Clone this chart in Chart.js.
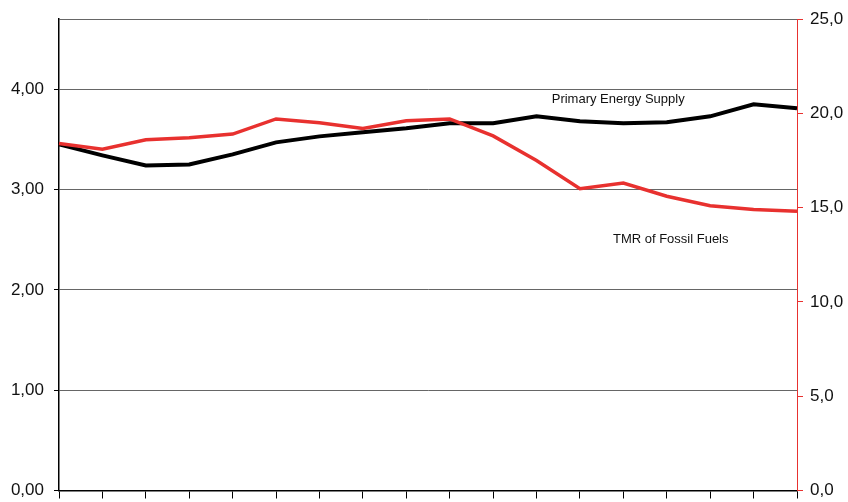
<!DOCTYPE html>
<html>
<head>
<meta charset="utf-8">
<script src="https://cdn.jsdelivr.net/npm/chart.js@4"></script>
<style>
  html, body { margin: 0; padding: 0; background: #fff; }
  #wrap { width: 848px; height: 502px; position: relative; }
</style>
</head>
<body>
<div id="wrap"><canvas id="grafico"></canvas></div>
<script>
const years = ['1990','1991','1992','1993','1994','1995','1996','1997','1998',
               '1999','2000','2001','2002','2003','2004','2005','2006','2007'];
// left axis
const primaryEnergy = [3.45, 3.34, 3.24, 3.25, 3.35, 3.47, 3.53, 3.57, 3.61,
                       3.66, 3.66, 3.73, 3.68, 3.66, 3.67, 3.73, 3.85, 3.81];
// right axis
const tmrFossil = [18.4, 18.1, 18.6, 18.7, 18.9, 19.7, 19.5, 19.2, 19.6,
                   19.7, 18.8, 17.5, 16.0, 16.3, 15.6, 15.1, 14.9, 14.8];
const leftTicks = [0, 1, 2, 3, 4];
const rightTicks = [0, 5, 10, 15, 20, 25];

const comma = (v, d) => v.toFixed(d).replace('.', ',');

// text labels next to the lines, placed in data units
const lineLabels = {
  id: 'lineLabels',
  afterDatasetsDraw(chart) {
    const { ctx, scales: { x, y } } = chart;
    ctx.save();
    ctx.fillStyle = '#111';
    ctx.font = '13px "Liberation Sans", Arial, sans-serif';
    ctx.textAlign = 'left';
    ctx.textBaseline = 'alphabetic';
    ctx.fillText('Primary Energy Supply', x.getPixelForValue(11.35), y.getPixelForValue(3.865));
    ctx.fillText('TMR of Fossil Fuels', x.getPixelForValue(12.76), y.getPixelForValue(2.47));
    ctx.restore();
  }
};

const chart = new Chart(document.getElementById('grafico'), {
  type: 'line',
  data: {
    labels: years,
    datasets: [
      {
        label: 'TMR of Fossil Fuels',
        data: tmrFossil,
        yAxisID: 'y2',
        borderColor: '#e8312f',
        borderWidth: 3.5,
        pointRadius: 0,
        tension: 0
      },
      {
        label: 'Primary Energy Supply',
        data: primaryEnergy,
        yAxisID: 'y',
        borderColor: '#000',
        borderWidth: 4,
        pointRadius: 0,
        tension: 0
      }
    ]
  },
  options: {
    responsive: true,
    maintainAspectRatio: false,
    animation: false,
    layout: { padding: { top: 19, left: 0, right: 0, bottom: 0 } },
    plugins: { legend: { display: false }, tooltip: { enabled: false } },
    scales: {
      x: {
        offset: false,
        grid: { drawOnChartArea: false, tickLength: 8, tickColor: '#000' },
        border: { color: '#000', width: 1.5 },
        ticks: { display: false, autoSkip: false },
        afterFit(s) { s.height = 11.5; s.paddingLeft = 0; s.paddingRight = 0; }
      },
      y: {
        position: 'left',
        min: 0,
        max: 4.7,
        afterBuildTicks(s) {
          s.ticks = leftTicks.concat([4.7]).map(v => ({ value: v }));
        },
        grid: {
          color: '#666',
          lineWidth: 1,
          tickLength: 5,
          tickColor: c => (c.tick && c.tick.value > 4.5) ? 'rgba(0,0,0,0)' : '#000'
        },
        border: { color: '#000', width: 1.5 },
        ticks: {
          padding: 10,
          color: '#111',
          font: { family: '"Liberation Sans", Arial, sans-serif', size: 17 },
          callback: v => v > 4.5 ? '' : comma(v, 2)
        },
        afterFit(s) { s.width = 59; s.paddingTop = 0; s.paddingBottom = 0; }
      },
      y2: {
        position: 'right',
        min: 0,
        max: 25,
        afterBuildTicks(s) {
          s.ticks = rightTicks.map(v => ({ value: v }));
        },
        grid: { drawOnChartArea: false, tickLength: 6, tickColor: '#e8312f' },
        border: { color: '#e8312f', width: 1 },
        ticks: {
          padding: 7,
          color: '#111',
          font: { family: '"Liberation Sans", Arial, sans-serif', size: 17 },
          callback: v => comma(v, 1)
        },
        afterFit(s) { s.width = 51; s.paddingTop = 0; s.paddingBottom = 0; }
      }
    }
  },
  plugins: [lineLabels]
});
</script>
</body>
</html>
